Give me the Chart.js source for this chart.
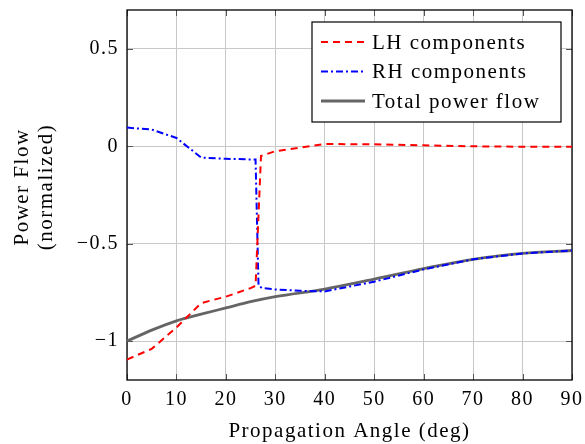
<!DOCTYPE html>
<html>
<head>
<meta charset="utf-8">
<script src="https://cdn.jsdelivr.net/npm/chart.js@4/dist/chart.umd.min.js"></script>
<style>
  body { margin: 0; background: #fff; }
  canvas { display: block; }
</style>
</head>
<body>
<canvas id="powerChart" width="585" height="444"></canvas>
<script>
// LH component
const angleLH = [0, 5, 10, 15, 20, 25, 26.0, 27.1, 30, 40, 50, 60, 70, 80, 90];
const powerLH = [-1.095, -1.04, -0.93, -0.805, -0.772, -0.728, -0.716, -0.05, -0.025, 0.012, 0.01, 0.005, 0.0, -0.002, -0.002];

// RH component
const angleRH = [0, 5, 10, 15, 20, 26.0, 26.6, 27.3, 30, 35, 40, 50, 60, 70, 80, 90];
const powerRH = [0.096, 0.086, 0.043, -0.058, -0.064, -0.068, -0.715, -0.728, -0.735, -0.742, -0.745, -0.695, -0.632, -0.58, -0.55, -0.535];

// total power flow
const angleTotal = [0, 5, 10, 15, 20, 25, 30, 40, 50, 60, 70, 80, 90];
const powerTotal = [-1.0, -0.944, -0.896, -0.862, -0.83, -0.798, -0.772, -0.733, -0.682, -0.628, -0.58, -0.55, -0.535];

const seriesNames = ["LH components", "RH components", "Total power flow"];

const xTicks = [0, 10, 20, 30, 40, 50, 60, 70, 80, 90];
const yTicks = [-1, -0.5, 0, 0.5];
const yTickLabels = ["\u22121", "\u22120.5", "0", "0.5"];

const FONT = "'Liberation Serif', 'Times New Roman', serif";
const SPACING = "1.5px";

function toPoints(xs, ys) {
    return xs.map((x, i) => ({ x: x, y: ys[i] }));
}

// a bit of tracking so the serif text runs as wide as TeX text
const spacingPlugin = {
    id: "spacing",
    beforeLayout(chart) { chart.ctx.letterSpacing = SPACING; },
    beforeDraw(chart) { chart.ctx.letterSpacing = SPACING; }
};

// box around the plot + small inward ticks on all four sides
const framePlugin = {
    id: "frame",
    beforeDatasetsDraw(chart) {
        const { ctx, chartArea: a, scales } = chart;
        ctx.save();
        ctx.strokeStyle = "#555";
        ctx.lineWidth = 1;
        const len = 6;
        ctx.beginPath();
        xTicks.forEach(v => {
            const px = Math.round(scales.x.getPixelForValue(v)) + 0.5;
            ctx.moveTo(px, a.bottom); ctx.lineTo(px, a.bottom - len);
            ctx.moveTo(px, a.top); ctx.lineTo(px, a.top + len);
        });
        yTicks.forEach(v => {
            const py = Math.round(scales.y.getPixelForValue(v)) + 0.5;
            ctx.moveTo(a.left, py); ctx.lineTo(a.left + len, py);
            ctx.moveTo(a.right, py); ctx.lineTo(a.right - len, py);
        });
        ctx.stroke();
        ctx.strokeStyle = "#000";
        ctx.lineWidth = 1.3;
        ctx.strokeRect(a.left, a.top, a.right - a.left, a.bottom - a.top);
        ctx.restore();
    },
    afterDraw(chart) {
        // two-line y axis title
        const { ctx, chartArea: a } = chart;
        ctx.save();
        ctx.translate(22, (a.top + a.bottom) / 2 - 8);
        ctx.rotate(-Math.PI / 2);
        ctx.fillStyle = "#000";
        ctx.font = "21px " + FONT;
        ctx.textAlign = "center";
        ctx.textBaseline = "middle";
        ctx.fillText("Power Flow", 0, 0);
        ctx.fillText("(normalized)", 0, 24);
        ctx.restore();
    }
};

// legend box in the upper right corner of the plot
const legendBoxPlugin = {
    id: "legendBox",
    afterDraw(chart) {
        const { ctx, chartArea: a } = chart;
        const left = a.right - 260, top = a.top + 12, w = 249, h = 100;
        ctx.save();
        ctx.fillStyle = "#fff";
        ctx.fillRect(left, top, w, h);
        ctx.strokeStyle = "#000";
        ctx.lineWidth = 1.2;
        ctx.strokeRect(left, top, w, h);
        ctx.font = "21px " + FONT;
        ctx.textBaseline = "middle";
        chart.data.datasets.forEach((ds, i) => {
            const y = top + 20 + i * 29.5;
            ctx.beginPath();
            ctx.strokeStyle = ds.borderColor;
            ctx.lineWidth = ds.borderWidth;
            ctx.setLineDash(ds.borderDash || []);
            ctx.moveTo(left + 9, y);
            ctx.lineTo(left + 53, y);
            ctx.stroke();
            ctx.setLineDash([]);
            ctx.fillStyle = "#000";
            ctx.fillText(ds.label, left + 60, y + 1);
        });
        ctx.restore();
    }
};

const ctx = document.getElementById("powerChart").getContext("2d");

new Chart(ctx, {
    type: "line",
    data: {
        datasets: [
            {
                label: seriesNames[0],
                data: toPoints(angleLH, powerLH),
                borderColor: "#ff0000",
                borderWidth: 2,
                borderDash: [7, 5],
                pointRadius: 0,
                tension: 0
            },
            {
                label: seriesNames[1],
                data: toPoints(angleRH, powerRH),
                borderColor: "#0000ff",
                borderWidth: 2,
                borderDash: [7, 3, 2, 3],
                pointRadius: 0,
                tension: 0
            },
            {
                label: seriesNames[2],
                data: toPoints(angleTotal, powerTotal),
                borderColor: "#656565",
                borderWidth: 2.8,
                pointRadius: 0,
                cubicInterpolationMode: "monotone"
            }
        ]
    },
    options: {
        responsive: false,
        animation: false,
        devicePixelRatio: 1,
        layout: { padding: { left: 0, right: 13, top: 10, bottom: 0 } },
        plugins: {
            legend: { display: false },
            tooltip: { enabled: false }
        },
        scales: {
            x: {
                type: "linear",
                min: 0,
                max: 90,
                afterBuildTicks: s => { s.ticks = xTicks.map(v => ({ value: v })); },
                afterFit: s => {
                    s.height = 64;
                    s.paddingLeft = 0; s.paddingRight = 0;
                },
                ticks: {
                    color: "#000",
                    padding: 8,
                    maxRotation: 0,
                    font: { family: FONT, size: 20 },
                    callback: v => String(v)
                },
                grid: { color: "#c8c8c8", lineWidth: 1, drawTicks: false },
                border: { display: false },
                title: {
                    display: true,
                    text: "Propagation Angle (deg)",
                    color: "#000",
                    font: { family: FONT, size: 21 },
                    padding: { top: 0, bottom: 0 }
                }
            },
            y: {
                type: "linear",
                min: -1.2,
                max: 0.7,
                afterBuildTicks: s => { s.ticks = yTicks.map(v => ({ value: v })); },
                afterFit: s => {
                    s.width = 127;
                    s.paddingTop = 0; s.paddingBottom = 0;
                },
                ticks: {
                    color: "#000",
                    padding: 8,
                    font: { family: FONT, size: 20 },
                    callback: v => yTickLabels[yTicks.indexOf(v)]
                },
                grid: { color: "#c8c8c8", lineWidth: 1, drawTicks: false },
                border: { display: false }
            }
        }
    },
    plugins: [spacingPlugin, framePlugin, legendBoxPlugin]
});
</script>
</body>
</html>
